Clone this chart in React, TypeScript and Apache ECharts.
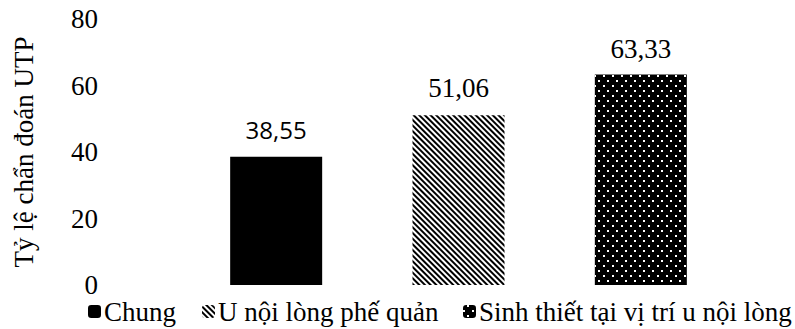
import React, { useEffect, useRef } from "react";
import * as echarts from "echarts";

const categories = ["Chung", "U nội lòng phế quản", "Sinh thiết tại vị trí u nội lòng"];
const chungValues = [38.55, "-", "-"];
const uNoiLongValues = ["-", 51.06, "-"];
const sinhThietValues = ["-", "-", 63.33];
const yTicks = { min: 0, max: 80, interval: 20 };
const yAxisTitle = "Tỷ lệ chẩn đoán UTP";

const serif = "'Liberation Serif', 'Times New Roman', serif";
const sans = "'Open Sans', 'Liberation Sans', Arial, sans-serif";

export default function App() {
  const ref = useRef<HTMLDivElement>(null);
  useEffect(() => {
    if (!ref.current) return;
    const chart = echarts.init(ref.current, null, { renderer: "svg" });
    const fmt = (p: any) => String(p.value).replace(".", ",");
    const labelBase = { show: true, position: "top", color: "#000", formatter: fmt };
    const legendBase = {
      bottom: 4,
      padding: 0,
      itemWidth: 13,
      itemHeight: 13,
      textStyle: { fontFamily: serif, fontSize: 27, color: "#000", padding: [0, 0, 0, -2] },
    };
    const hatchDecal = {
      symbol: "rect",
      symbolSize: 1,
      color: "#000",
      backgroundColor: "#fff",
      dashArrayX: [[1, 0]],
      dashArrayY: [2, 2],
      rotation: Math.PI / 4,
    };
    const dotDecal = {
      symbol: "rect",
      symbolSize: 1,
      color: "#fff",
      backgroundColor: "#000",
      dashArrayX: [[1.6, 6.4], [0, 4, 1.6, 2.4]],
      dashArrayY: [1.6, 2.6],
      rotation: 0,
    };
    chart.setOption({
      animation: false,
      backgroundColor: "#fff",
      grid: { left: 185, right: 63, top: 19, bottom: 44, containLabel: false },
      legend: [
        { ...legendBase, left: 88, data: [categories[0]] },
        { ...legendBase, left: 202, data: [categories[1]] },
        { ...legendBase, left: 463, data: [categories[2]] },
      ],
      xAxis: {
        type: "category",
        data: categories,
        axisLine: { show: false },
        axisTick: { show: false },
        axisLabel: { show: false },
      },
      yAxis: {
        type: "value",
        min: yTicks.min,
        max: yTicks.max,
        interval: yTicks.interval,
        name: yAxisTitle,
        nameLocation: "middle",
        nameGap: 148,
        nameTextStyle: { fontFamily: serif, fontSize: 27, color: "#000" },
        axisLine: { show: false },
        axisTick: { show: false },
        splitLine: { show: false },
        axisLabel: { fontFamily: serif, fontSize: 27, color: "#000", margin: 87 },
      },
      series: [
        {
          name: categories[0],
          type: "bar",
          data: chungValues,
          barWidth: 92,
          barGap: "-100%",
          itemStyle: { color: "#000" },
          label: { ...labelBase, fontFamily: sans, fontSize: 24, distance: 15 },
        },
        {
          name: categories[1],
          type: "bar",
          data: uNoiLongValues,
          barWidth: 92,
          barGap: "-100%",
          itemStyle: { color: "#fff", decal: hatchDecal },
          label: { ...labelBase, fontFamily: serif, fontSize: 27, distance: 14 },
        },
        {
          name: categories[2],
          type: "bar",
          data: sinhThietValues,
          barWidth: 92,
          barGap: "-100%",
          itemStyle: { color: "#000", decal: dotDecal },
          label: { ...labelBase, fontFamily: serif, fontSize: 27, distance: 12 },
        },
      ],
    });
    return () => chart.dispose();
  }, []);
  return <div ref={ref} style={{ width: 795, height: 329, position: "absolute", left: 0, top: 0 }} />;
}
